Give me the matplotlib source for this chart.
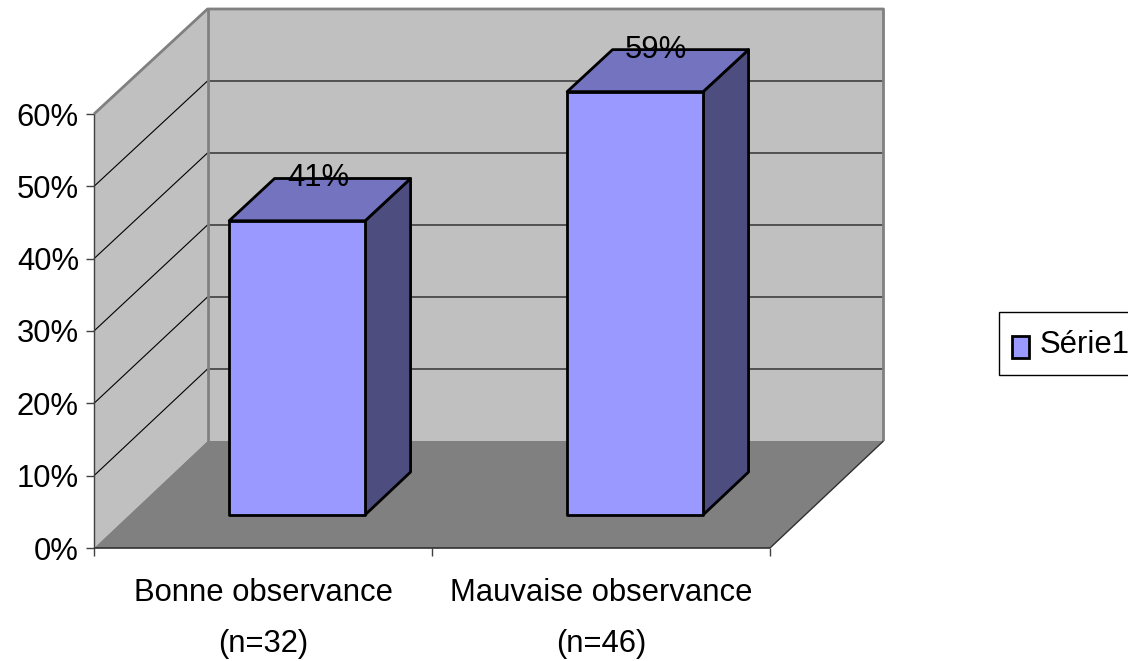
import matplotlib
matplotlib.use('Agg')
import matplotlib.pyplot as plt
from matplotlib.patches import Polygon, Rectangle

plt.rcParams['font.family'] = ['Liberation Sans', 'DejaVu Sans']

# Data
categories = ['Bonne observance\n(n=32)', 'Mauvaise observance\n(n=46)']
values = [0.41, 0.59]
value_labels = ['41%', '59%']
y_ticks = [0.0, 0.1, 0.2, 0.3, 0.4, 0.5, 0.6]
y_tick_labels = ['0%', '10%', '20%', '30%', '40%', '50%', '60%']
series_name = 'Série1'

# Colors
wall = '#c0c0c0'
floor = '#808080'
edge = '#808080'
front = '#9999ff'
top = '#7373bf'
side = '#4d4d80'

W, H = 1128, 661
fig = plt.figure(figsize=(W / 100, H / 100), dpi=100)
ax = fig.add_axes([94 / W, 1 - 548 / H, 676 / W, 434 / H])
ax.set_xlim(0, 2)
ax.set_ylim(0, 0.6)
for s in ax.spines.values():
    s.set_visible(False)
ax.patch.set_visible(False)

# Depth of the box, in data units
depth_x = 113.5 / 338
depth_y = 107 / 723.3
shrink = 0.0046  # the back wall is very slightly shorter than the front


def proj(x, y, d):
    # d=0 is the front plane, d=1 the back wall
    return (x + d * depth_x, y * (1 - shrink * d) + d * depth_y)


def face(points, color, z, ec='none', lw=0):
    ax.add_patch(Polygon(points, closed=True, facecolor=color, edgecolor=ec,
                         linewidth=lw, zorder=z, clip_on=False,
                         joinstyle='round'))


def line(points, color, lw, z):
    xs, ys = zip(*points)
    ax.plot(xs, ys, color=color, linewidth=lw, zorder=z, clip_on=False,
            solid_capstyle='butt')


ymax = y_ticks[-1]

# Walls and floor
face([proj(0, 0, 0), proj(0, ymax, 0), proj(0, ymax, 1), proj(0, 0, 1)], wall, 1)
face([proj(0, 0, 1), proj(0, ymax, 1), proj(2, ymax, 1), proj(2, 0, 1)], wall, 1)
face([proj(0, 0, 0), proj(2, 0, 0), proj(2, 0, 1), proj(0, 0, 1)], floor, 2)

# Gridlines on both walls
for t in y_ticks[1:-1]:
    line([proj(0, t, 0), proj(0, t, 1), proj(2, t, 1)], 'black', 0.8, 3)

# Wall outlines
line([proj(0, ymax, 0), proj(0, ymax, 1), proj(2, ymax, 1), proj(2, 0, 1)], edge, 2, 4)
line([proj(0, ymax, 1), proj(0, 0, 1)], edge, 2, 4)

# Axis lines
line([proj(0, 0, 0), proj(0, ymax, 0)], '#404040', 1, 5)
line([proj(0, 0, 0), proj(2, 0, 0)], '#303030', 1.2, 5)
line([proj(2, 0, 0), proj(2, 0, 1)], '#303030', 1, 5)

# Bars, placed inside the depth of the box
bar_width = 136 / 338
d0 = 0.31
d1 = 0.71
bar_scale = 0.993
for i, v in enumerate(values):
    x0 = i + 0.5 - bar_width / 2 - 0.003
    x1 = i + 0.5 + bar_width / 2 - 0.003
    h = v * bar_scale
    face([proj(x1, 0, d0), proj(x1, 0, d1), proj(x1, h, d1), proj(x1, h, d0)],
         side, 6, 'black', 2)
    face([proj(x0, h, d0), proj(x1, h, d0), proj(x1, h, d1), proj(x0, h, d1)],
         top, 6, 'black', 2)
    face([proj(x0, 0, d0), proj(x1, 0, d0), proj(x1, h, d0), proj(x0, h, d0)],
         front, 7, 'black', 2)
    lx = proj(i + 0.5, h, (d0 + d1) / 2)[0]
    ly = proj(i + 0.5, h, d1)[1]
    ax.text(lx - 0.008, ly, value_labels[i], ha='center', va='center',
            fontsize=22.3, color='black', zorder=8, clip_on=False)

# Ticks
ax.set_yticks(y_ticks)
ax.set_yticklabels(y_tick_labels, fontsize=22.3)
ax.tick_params(axis='y', length=5.8, width=1, color='#404040', pad=5)
ax.set_xticks([0, 1, 2])
ax.set_xticklabels([])
ax.tick_params(axis='x', which='major', length=5.8, width=1, color='#404040')
ax.set_xticks([0.5, 1.5], minor=True)
ax.set_xticklabels(categories, minor=True, fontsize=22.3, linespacing=1.9)
ax.tick_params(axis='x', which='minor', length=0, pad=21.5)

# Legend box, drawn by hand so it runs off the right edge like the original
fig.add_artist(Rectangle((999 / W, 1 - 375 / H), 140 / W, 63 / H,
                         transform=fig.transFigure, facecolor='white',
                         edgecolor='black', linewidth=1))
fig.add_artist(Rectangle((1011.5 / W, 1 - 358 / H), 17 / W, 22 / H,
                         transform=fig.transFigure, facecolor=front,
                         edgecolor='black', linewidth=2))
fig.text(1040 / W, 1 - 345 / H, series_name, fontsize=22.3, ha='left',
         va='center', color='black')

fig.savefig('out.png', dpi=100)
